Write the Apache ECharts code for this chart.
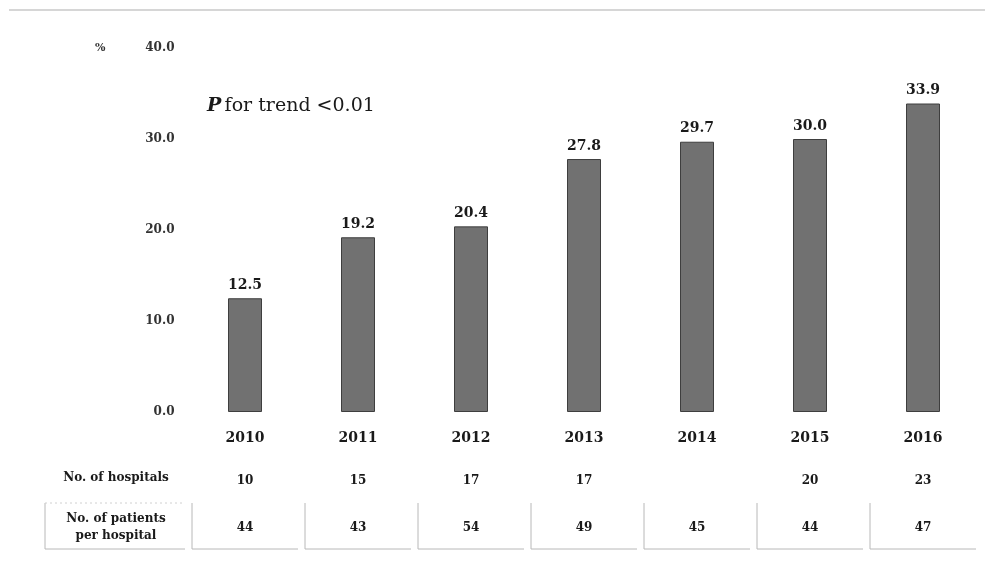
<!DOCTYPE html>
<html><head><meta charset="utf-8">
<script src="https://cdn.jsdelivr.net/npm/echarts@6/dist/echarts.min.js"></script>
<style>html,body{margin:0;padding:0;background:#fff}#c{width:990px;height:587px}</style>
</head><body><div id="c"></div>
<script>
const years = ['2010','2011','2012','2013','2014','2015','2016'];
const percentValues = [12.5, 19.2, 20.4, 27.8, 29.7, 30.0, 33.9];
const hospitals = ['10','15','17','17','','20','23'];
const patientsPerHospital = ['44','43','54','49','45','44','47'];
const yTicks = [0, 10, 20, 30, 40];

const serif = '"DejaVu Serif", "Liberation Serif", serif';
const chart = echarts.init(document.getElementById('c'));
const option = {
  animation: false,
  backgroundColor: '#fff',
  grid: { left: 188.5, right: 10.5, top: 48, bottom: 175 },
  xAxis: {
    type: 'category', data: years,
    axisLine: { show: false }, axisTick: { show: false },
    axisLabel: { margin: 19, fontFamily: serif, fontSize: 14, color: '#1a1a1a', fontWeight: 'bold' }
  },
  yAxis: {
    type: 'value', min: yTicks[0], max: yTicks[yTicks.length-1], interval: 10,
    axisLine: { show: false }, axisTick: { show: false }, splitLine: { show: false },
    axisLabel: { margin: 14, fontFamily: serif, fontSize: 12, color: '#333', fontWeight: 'bold',
      formatter: v => v.toFixed(1) }
  },
  series: [{
    type: 'bar', data: percentValues, barWidth: 34,
    itemStyle: { color: '#717171', borderColor: '#3e3e3e', borderWidth: 1 },
    label: { show: true, position: 'top', distance: 6, fontFamily: serif, fontSize: 14,
      color: '#1a1a1a', fontWeight: 'bold', formatter: p => p.value.toFixed(1) }
  }]
};
chart.setOption(option);

function build() {
  const els = [];
  els.push({ type: 'line', shape: { x1: 9, y1: 10, x2: 985, y2: 10 }, style: { stroke: '#c8c8c8', lineWidth: 1.5 } });
  els.push({ type: 'text', x: 95, y: 48, style: { text: '%', font: 'bold 11px ' + serif, fill: '#333', textVerticalAlign: 'middle' } });
  els.push({ type: 'text', x: 207, y: 106, style: {
    rich: { i: { fontFamily: serif, fontStyle: 'italic', fontWeight: 'bold', fontSize: 19, fill: '#1a1a1a' },
            n: { fontFamily: serif, fontSize: 19, fill: '#1a1a1a' } },
    text: '{i|P} {n|for trend <0.01}', textVerticalAlign: 'middle' } });
  els.push({ type: 'text', x: 116, y: 478, style: { text: 'No. of hospitals', font: 'bold 12px ' + serif, fill: '#1a1a1a', textAlign: 'center', textVerticalAlign: 'middle' } });
  els.push({ type: 'text', x: 116, y: 527, style: { text: 'No. of patients\nper hospital', font: 'bold 12px ' + serif, fill: '#1a1a1a', textAlign: 'center', textVerticalAlign: 'middle', lineHeight: 17 } });
  const boxTop = 503, boxBottom = 549;
  const lineStyle = { stroke: '#b8b8b8', lineWidth: 1 };
  els.push({ type: 'polyline', shape: { points: [[45, boxTop], [45, boxBottom], [185, boxBottom]] }, style: Object.assign({ fill: null }, lineStyle) });
  els.push({ type: 'line', shape: { x1: 45, y1: boxTop, x2: 185, y2: boxTop }, style: { stroke: '#d0d0d0', lineWidth: 1, lineDash: [2, 3] } });
  const step = chart.convertToPixel({ xAxisIndex: 0 }, years[1]) - chart.convertToPixel({ xAxisIndex: 0 }, years[0]);
  years.forEach((y, i) => {
    const cx = chart.convertToPixel({ xAxisIndex: 0 }, y);
    els.push({ type: 'text', x: cx, y: 481, style: { text: hospitals[i], font: 'bold 12px ' + serif, fill: '#1a1a1a', textAlign: 'center', textVerticalAlign: 'middle' } });
    els.push({ type: 'text', x: cx, y: 528, style: { text: patientsPerHospital[i], font: 'bold 12px ' + serif, fill: '#1a1a1a', textAlign: 'center', textVerticalAlign: 'middle' } });
    const l = cx - step / 2 + 3.5, r = cx + step / 2 - 3.5;
    els.push({ type: 'polyline', shape: { points: [[l, boxTop], [l, boxBottom], [r, boxBottom]] }, style: Object.assign({ fill: null }, lineStyle) });
  });
  chart.setOption({ graphic: { elements: els } });
}
build();
</script>
</body></html>
